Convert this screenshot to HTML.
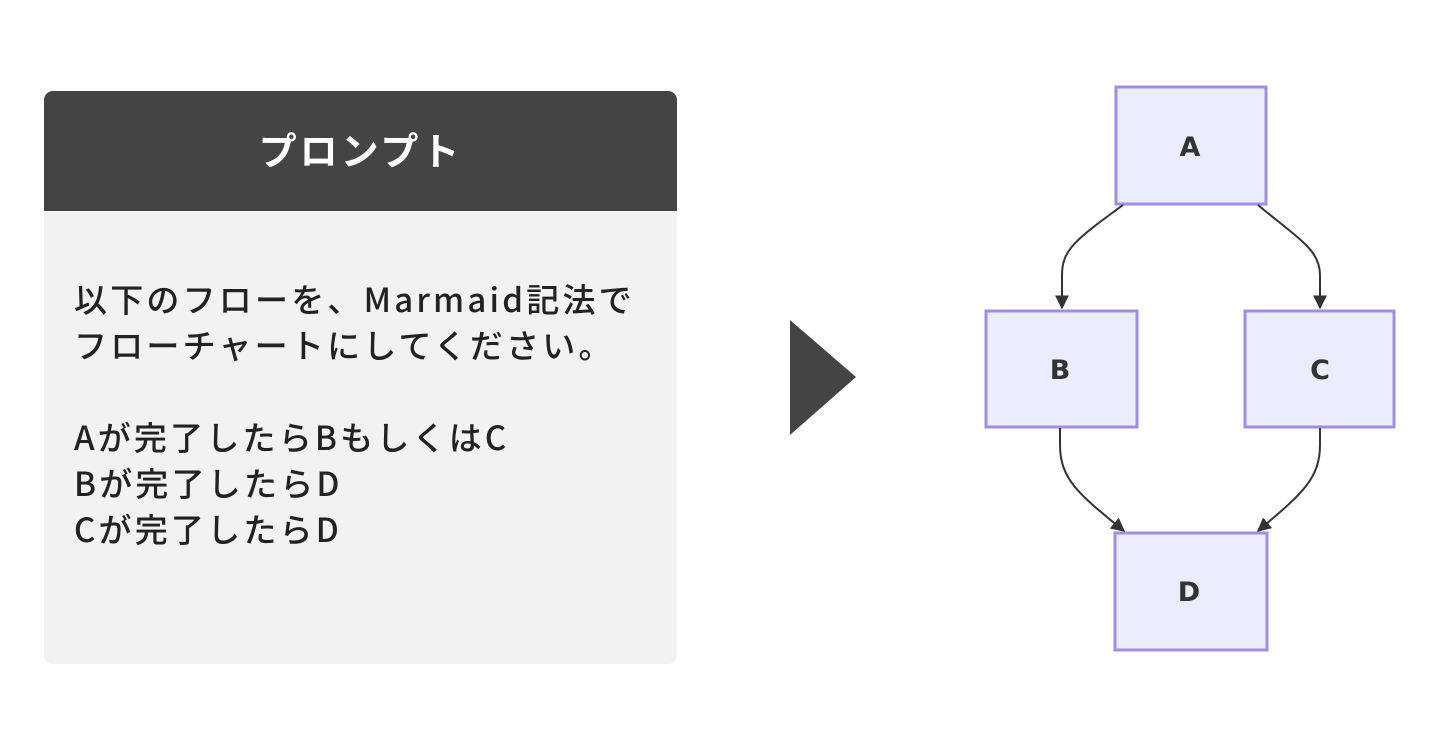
<!DOCTYPE html>
<html><head><meta charset="utf-8"><style>
body{margin:0;width:1454px;height:734px;background:#fff;position:relative;overflow:hidden;font-family:"Liberation Sans","Noto Sans CJK JP",sans-serif;}
.panel{position:absolute;left:44px;top:91px;width:633px;height:573px;background:#f2f2f2;border-radius:9px;overflow:hidden;}
.hd{height:120px;background:#444;color:#fff;font-size:38px;letter-spacing:3px;font-weight:bold;text-align:center;line-height:116px;font-family:"Noto Sans CJK JP",sans-serif;}
.tx{position:absolute;left:30px;top:184px;font-size:33px;letter-spacing:3.2px;line-height:46px;color:#222;font-family:"Noto Sans CJK JP",sans-serif;font-weight:500;white-space:pre;}
</style></head><body>
<div class="panel"><div class="hd">プロンプト</div>
<div class="tx">以下のフローを、Marmaid記法で
フローチャートにしてください。

Aが完了したらBもしくはC
Bが完了したらD
Cが完了したらD</div></div>
<svg width="1454" height="734" style="position:absolute;left:0;top:0">
<polygon points="790,320 790,435 856,377" fill="#444"/>
<defs><marker id="m" viewBox="0 0 10 10" refX="9" refY="5" markerWidth="8" markerHeight="8" markerUnits="userSpaceOnUse" orient="auto"><path d="M0,0L10,5L0,10z" fill="#333"/></marker>
<marker id="m2" viewBox="0 0 10 10" refX="9" refY="5" markerWidth="14" markerHeight="14" markerUnits="userSpaceOnUse" orient="auto"><path d="M0,0L10,5L0,10z" fill="#333"/></marker></defs>
<g fill="#ececff" stroke="#a08fe0" stroke-width="3">
<rect x="1116" y="87" width="150" height="117"/>
<rect x="986" y="311" width="151" height="116"/>
<rect x="1245" y="311" width="149" height="116"/>
<rect x="1115" y="533" width="152" height="117"/>
</g>
<g fill="none" stroke="#333" stroke-width="2">
<path d="M1123,205 C1075,240 1062,250 1062,275 L1062,308" marker-end="url(#m2)"/>
<path d="M1258,205 C1300,240 1320,250 1320,275 L1320,308" marker-end="url(#m2)"/>
<path d="M1060,428 L1060,445 C1060,480 1080,495 1124,531" marker-end="url(#m2)"/>
<path d="M1320,428 L1320,445 C1320,480 1300,495 1258,531" marker-end="url(#m2)"/>
</g>
<g font-family="DejaVu Sans,sans-serif" font-weight="bold" font-size="27" fill="#333" text-anchor="middle">
<text x="1190" y="156">A</text><text x="1060" y="379">B</text><text x="1320" y="379">C</text><text x="1189" y="601">D</text>
</g>
</svg>
</body></html>
